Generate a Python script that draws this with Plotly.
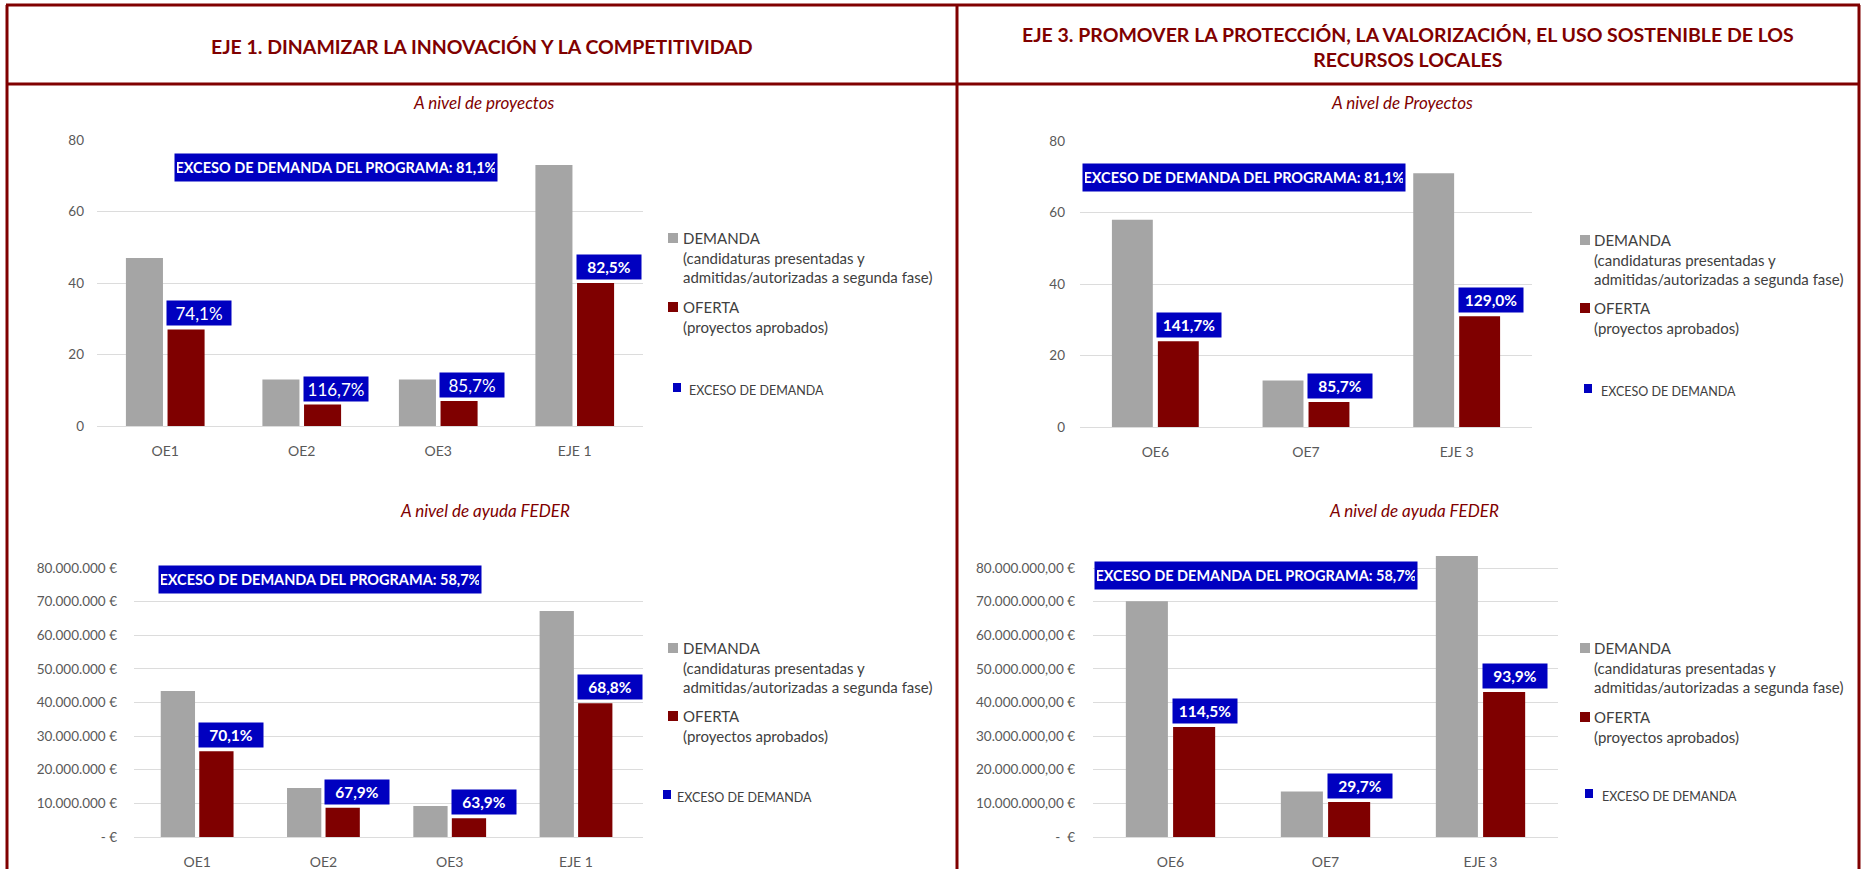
import plotly.graph_objects as go

W, H = 1863, 869

# ---------------- data ----------------
cats_eje1 = ["OE1", "OE2", "OE3", "EJE 1"]
demanda_eje1_proy = [47, 13, 13, 73]
oferta_eje1_proy = [27, 6, 7, 40]
exceso_eje1_proy = ["74,1%", "116,7%", "85,7%", "82,5%"]

demanda_eje1_feder = [43_400_000, 14_600_000, 9_200_000, 67_200_000]
oferta_eje1_feder = [25_500_000, 8_700_000, 5_600_000, 39_800_000]
exceso_eje1_feder = ["70,1%", "67,9%", "63,9%", "68,8%"]

cats_eje3 = ["OE6", "OE7", "EJE 3"]
demanda_eje3_proy = [58, 13, 71]
oferta_eje3_proy = [24, 7, 31]
exceso_eje3_proy = ["141,7%", "85,7%", "129,0%"]

demanda_eje3_feder = [70_100_000, 13_500_000, 83_600_000]
oferta_eje3_feder = [32_700_000, 10_400_000, 43_100_000]
exceso_eje3_feder = ["114,5%", "29,7%", "93,9%"]

programa_proy = "EXCESO DE DEMANDA DEL PROGRAMA: 81,1%"
programa_feder = "EXCESO DE DEMANDA DEL PROGRAMA: 58,7%"

ticks_proy = [0, 20, 40, 60, 80]
ticks_feder = [0, 10e6, 20e6, 30e6, 40e6, 50e6, 60e6, 70e6, 80e6]
ticktext_eje1_feder = ["- €", "10.000.000 €", "20.000.000 €", "30.000.000 €",
                       "40.000.000 €", "50.000.000 €", "60.000.000 €",
                       "70.000.000 €", "80.000.000 €"]
ticktext_eje3_feder = ["-  €", "10.000.000,00 €", "20.000.000,00 €", "30.000.000,00 €",
                       "40.000.000,00 €", "50.000.000,00 €", "60.000.000,00 €",
                       "70.000.000,00 €", "80.000.000,00 €"]

titulo_eje1 = "EJE 1. DINAMIZAR LA INNOVACIÓN Y LA COMPETITIVIDAD"
titulo_eje3 = ("EJE 3. PROMOVER LA PROTECCIÓN, LA VALORIZACIÓN, EL USO SOSTENIBLE DE LOS"
               "<br>RECURSOS LOCALES")
sub_proy_eje1 = "A nivel de proyectos"
sub_proy_eje3 = "A nivel de Proyectos"
sub_feder = "A nivel de ayuda FEDER"

leyenda_demanda = "DEMANDA<br>(candidaturas presentadas y<br>admitidas/autorizadas a segunda fase)"
leyenda_oferta = "OFERTA<br>(proyectos aprobados)"
leyenda_exceso = "EXCESO DE DEMANDA"

# ---------------- styles ----------------
GRIS = "#A5A5A5"
GRANATE = "#7F0000"
AZUL = "#0000C0"
BORDE = "#800000"
TXT_EJE = "#595959"
TXT_LEY = "#404040"
GRID = "#DCDCDC"
FONT = "Lato"


def px(x):
    return x / W


def py(y):
    return 1 - y / H


fig = go.Figure()

paneles = [
    dict(ax="", cats=cats_eje1, dem=demanda_eje1_proy, ofe=oferta_eje1_proy,
         lab=exceso_eje1_proy, bold=[False, False, False, True],
         x0=97, x1=643, ytop=140, yzero=426, tmax=80, rmax=80,
         tv=ticks_proy, tt=[str(t) for t in ticks_proy], standoff=12,
         banner=programa_proy, bx=336, by=167,
         ley=dict(sq=668, tx=682, dem=238, ofe=307, exc=390, bsq=673, btx=687)),
    dict(ax="2", cats=cats_eje1, dem=demanda_eje1_feder, ofe=oferta_eje1_feder,
         lab=exceso_eje1_feder, bold=[True] * 4,
         x0=134, x1=643, ytop=568, yzero=837, tmax=80e6, rmax=80e6,
         tv=ticks_feder, tt=ticktext_eje1_feder, standoff=16,
         banner=programa_feder, bx=320, by=579,
         ley=dict(sq=668, tx=682, dem=648, ofe=716, exc=797, bsq=663, btx=675)),
    dict(ax="3", cats=cats_eje3, dem=demanda_eje3_proy, ofe=oferta_eje3_proy,
         lab=exceso_eje3_proy, bold=[True] * 3,
         x0=1080, x1=1532, ytop=141, yzero=427, tmax=80, rmax=80,
         tv=ticks_proy, tt=[str(t) for t in ticks_proy], standoff=14,
         banner=programa_proy, bx=1244, by=177,
         ley=dict(sq=1580, tx=1593, dem=240, ofe=308, exc=391, bsq=1584, btx=1599)),
    dict(ax="4", cats=cats_eje3, dem=demanda_eje3_feder, ofe=oferta_eje3_feder,
         lab=exceso_eje3_feder, bold=[True] * 3,
         x0=1093, x1=1558, ytop=568, yzero=837, tmax=80e6, rmax=84e6,
         tv=ticks_feder, tt=ticktext_eje3_feder, standoff=17,
         banner=programa_feder, bx=1256, by=575,
         ley=dict(sq=1580, tx=1593, dem=648, ofe=717, exc=796, bsq=1585, btx=1600)),
]

annotations = []
shapes = []

for p in paneles:
    xa = "x" + p["ax"]
    ya = "y" + p["ax"]
    ppu = (p["yzero"] - p["ytop"]) / p["tmax"]
    ydom_top = p["yzero"] - p["rmax"] * ppu

    fig.add_trace(go.Bar(x=p["cats"], y=p["dem"], name="DEMANDA", marker_color=GRIS,
                         marker_line_width=0, xaxis=xa, yaxis=ya, showlegend=False,
                         hoverinfo="skip"))
    fig.add_trace(go.Bar(x=p["cats"], y=p["ofe"], name="OFERTA", marker_color=GRANATE,
                         marker_line_width=0, xaxis=xa, yaxis=ya, showlegend=False,
                         hoverinfo="skip"))

    xkey = "xaxis" + p["ax"]
    ykey = "yaxis" + p["ax"]
    fig.update_layout(**{
        xkey: dict(domain=[px(p["x0"]), px(p["x1"])], anchor=ya, type="category",
                   showgrid=False, zeroline=False, showline=True, linecolor=GRID,
                   linewidth=1, ticks="", ticklabelstandoff=12, automargin=False,
                   tickfont=dict(family=FONT, size=14, color=TXT_EJE), fixedrange=True),
        ykey: dict(domain=[py(p["yzero"]), py(ydom_top)], anchor=xa,
                   range=[0, p["rmax"]], tickvals=p["tv"], ticktext=p["tt"],
                   showgrid=True, gridcolor=GRID, gridwidth=1, zeroline=False,
                   showline=False, ticks="", ticklabelstandoff=p["standoff"],
                   automargin=False,
                   tickfont=dict(family=FONT, size=13.5, color=TXT_EJE), fixedrange=True),
    })

    # percentage boxes sitting on the OFERTA bars
    for c, v, t, b in zip(p["cats"], p["ofe"], p["lab"], p["bold"]):
        annotations.append(dict(
            x=c, y=v, xref=xa, yref=ya, text=t, showarrow=False,
            xanchor="left", yanchor="bottom", xshift=1, yshift=3,
            bgcolor=AZUL, width=60, height=20, borderpad=2,
            font=dict(family=FONT, size=15.5 if b else 17, color="white",
                      weight="bold" if b else "normal")))

    # programme-wide banner
    annotations.append(dict(
        x=px(p["bx"]), y=py(p["by"]), xref="paper", yref="paper",
        text=p["banner"], showarrow=False, xanchor="center", yanchor="middle",
        bgcolor=AZUL, width=318, height=23, borderpad=2,
        font=dict(family=FONT, size=14.5, color="white", weight="bold")))

    # legend block
    L = p["ley"]
    for txt, ycen, col in ((leyenda_demanda, L["dem"], GRIS), (leyenda_oferta, L["ofe"], GRANATE)):
        shapes.append(dict(type="rect", xref="paper", yref="paper",
                           x0=px(L["sq"]), x1=px(L["sq"] + 10),
                           y0=py(ycen + 5), y1=py(ycen - 5),
                           fillcolor=col, line_width=0))
        annotations.append(dict(x=px(L["tx"]), y=py(ycen - 10), xref="paper", yref="paper",
                                text=txt, showarrow=False, xanchor="left", yanchor="top",
                                align="left", borderpad=0,
                                font=dict(family=FONT, size=15, color=TXT_LEY)))
    shapes.append(dict(type="rect", xref="paper", yref="paper",
                       x0=px(L["bsq"]), x1=px(L["bsq"] + 8),
                       y0=py(L["exc"] + 2), y1=py(L["exc"] - 7),
                       fillcolor=AZUL, line_width=0))
    annotations.append(dict(x=px(L["btx"]), y=py(L["exc"]), xref="paper", yref="paper",
                            text=leyenda_exceso, showarrow=False, xanchor="left",
                            yanchor="middle", font=dict(family=FONT, size=12.5, color=TXT_LEY)))

# headings and sub-headings
annotations.append(dict(x=px(482), y=py(47), xref="paper", yref="paper", text=titulo_eje1,
                        showarrow=False, xanchor="center", yanchor="middle",
                        font=dict(family=FONT, size=19.5, color=BORDE, weight="bold")))
annotations.append(dict(x=px(1408), y=py(47), xref="paper", yref="paper", text=titulo_eje3,
                        showarrow=False, xanchor="center", yanchor="middle",
                        font=dict(family=FONT, size=19.5, color=BORDE, weight="bold")))
for xc, yc, txt in ((484, 103, sub_proy_eje1), (1402, 103, sub_proy_eje3),
                    (485, 510, sub_feder), (1414, 510, sub_feder)):
    annotations.append(dict(x=px(xc), y=py(yc), xref="paper", yref="paper", text=txt,
                            showarrow=False, xanchor="center", yanchor="middle",
                            font=dict(family=FONT, size=17, color=BORDE, style="italic")))


def linea(x0, y0, x1, y1):
    shapes.append(dict(type="line", xref="paper", yref="paper",
                       x0=px(x0), y0=py(y0), x1=px(x1), y1=py(y1),
                       line=dict(color=BORDE, width=3)))


# frame lines
linea(6, 5, 1860, 5)
linea(6, 84, 1860, 84)
linea(7, 5, 7, H)
linea(957, 5, 957, H)
linea(1859, 5, 1859, H)

fig.update_layout(
    width=W, height=H, autosize=False,
    margin=dict(l=0, r=0, t=0, b=0),
    paper_bgcolor="white", plot_bgcolor="white",
    barmode="group", bargap=0.39, bargroupgap=0.11,
    font=dict(family=FONT),
    annotations=annotations, shapes=shapes,
    hovermode=False,
)

fig.write_html("out.html", config={"displayModeBar": False})
